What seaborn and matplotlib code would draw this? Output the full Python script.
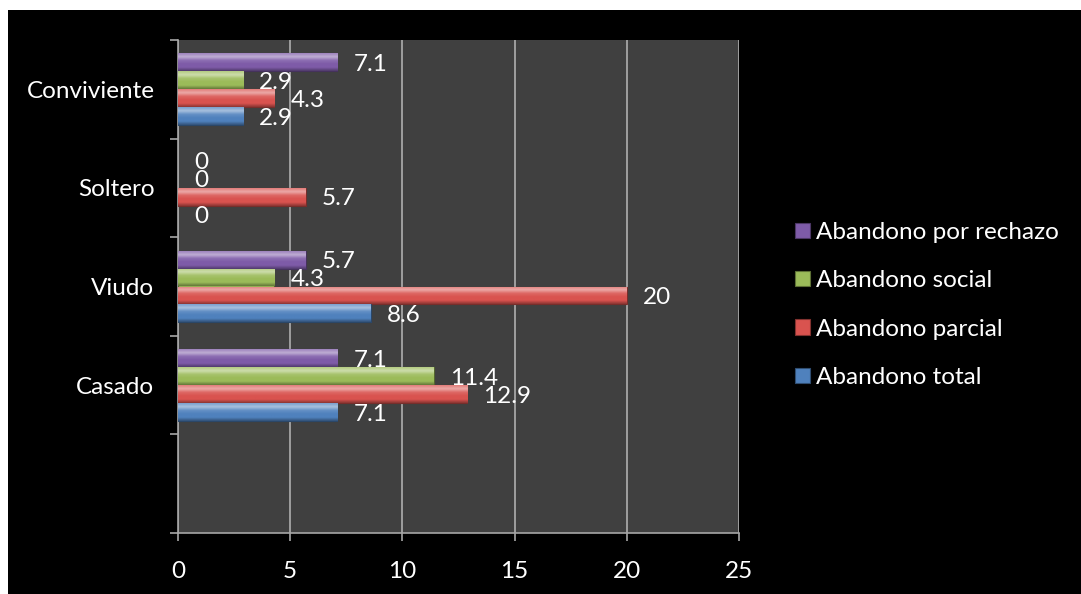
import numpy as np
import pandas as pd
import matplotlib
matplotlib.use("Agg")
import matplotlib.pyplot as plt
import matplotlib.colors as mcolors
from matplotlib.patches import Rectangle
import seaborn as sns

# Estado civil (de arriba hacia abajo; la última franja queda vacía)
estados = ["Conviviente", "Soltero", "Viudo", "Casado", " "]
tipos = ["Abandono por rechazo", "Abandono social", "Abandono parcial", "Abandono total"]

rechazo = [7.1, 0, 5.7, 7.1]
social = [2.9, 0, 4.3, 11.4]
parcial = [4.3, 5.7, 20, 12.9]
total = [2.9, 0, 8.6, 7.1]

colores = ["#7E5BA8", "#9BBB59", "#D9534F", "#4F81BD"]
x_ticks = [0, 5, 10, 15, 20, 25]

rows = []
for tipo, vals in zip(tipos, [rechazo, social, parcial, total]):
    for est, v in zip(estados[:4], vals):
        rows.append({"estado": est, "tipo": tipo, "valor": v})
df = pd.DataFrame(rows)

sns.set_style("dark")
plt.rcParams["font.family"] = ["Lato", "DejaVu Sans"]
FS = 17.5

fig = plt.figure(figsize=(10.81, 5.94), dpi=100, facecolor="white")
fig.patches.append(Rectangle((8 / 1081, 0), 1, 1 - 10 / 594, transform=fig.transFigure,
                             facecolor="black", edgecolor="none", zorder=-10))
ax = fig.add_axes([178 / 1081, 1 - 533 / 594, (739 - 178) / 1081, (533 - 40) / 594])
ax.set_facecolor("#404040")

sns.barplot(data=df, y="estado", x="valor", hue="tipo", order=estados, hue_order=tipos,
            palette=colores, orient="h", width=0.73, saturation=1, ax=ax,
            legend=False, zorder=3)


def mix(c, other, t):
    c = np.array(mcolors.to_rgb(c))
    o = np.array(mcolors.to_rgb(other))
    return c * (1 - t) + o * t


def gradient(base, n=40):
    stops = [mix(base, "white", 0.25), mix(base, "white", 0.5), mix(base, "white", 0.12),
             np.array(base), np.array(base), mix(base, "black", 0.35)]
    pos = np.linspace(0, 1, len(stops))
    t = np.linspace(0, 1, n)
    grad = np.stack([np.interp(t, pos, [s[k] for s in stops]) for k in range(3)], axis=-1)
    return np.repeat(grad[:, None, :], 2, axis=1)


# Bevelled look: vertical gradient clipped to each bar, value label at its end
bars = [p for p in ax.patches if isinstance(p, Rectangle)]
for p in bars:
    x0, y0, w, h = p.get_x(), p.get_y(), p.get_width(), p.get_height()
    base = mcolors.to_rgb(p.get_facecolor())
    ax.annotate(f"{w:g}", (x0 + w, y0 + h / 2), xytext=(16, -2),
                textcoords="offset pixels", ha="left", va="center",
                color="white", fontsize=FS, zorder=6)
    if w <= 0:
        p.set_linewidth(0)
        p.set_visible(False)
        continue
    p.set_edgecolor(mix(base, "black", 0.45))
    p.set_linewidth(0.8)
    im = ax.imshow(gradient(base), extent=(x0, x0 + w, y0 + h, y0), origin="upper",
                   aspect="auto", interpolation="bilinear", zorder=3.5)
    im.set_clip_path(p)

ax.set_xlim(0, 25)
ax.set_ylim(len(estados) - 0.5, -0.5)
ax.set_xticks(x_ticks)
ax.set_xticklabels([str(v) for v in x_ticks])
ax.set_yticks(range(len(estados)))
ax.set_yticklabels(estados)
ax.set_yticks(np.arange(-0.5, len(estados), 1), minor=True)
ax.set_xlabel("")
ax.set_ylabel("")

ax.grid(False)
ax.xaxis.grid(True, color="#A6A6A6", linewidth=1.3, zorder=1)
ax.set_axisbelow(True)

ax.tick_params(axis="y", which="major", length=0, pad=17, labelsize=FS, labelcolor="white")
ax.tick_params(axis="y", which="minor", length=6, width=1.2, color="#A6A6A6", left=True)
ax.tick_params(axis="x", which="major", length=6, width=1.2, color="#A6A6A6", bottom=True,
               pad=14, labelsize=FS, labelcolor="white")

for s in ["top", "right"]:
    ax.spines[s].set_visible(False)
for s in ["left", "bottom"]:
    ax.spines[s].set_visible(True)
    ax.spines[s].set_color("#A6A6A6")
    ax.spines[s].set_linewidth(1.2)

handles = [Rectangle((0, 0), 1, 1, facecolor=c, edgecolor=mix(c, "black", 0.4), linewidth=0.8)
           for c in colores]
leg = fig.legend(handles, tipos, loc="center left", bbox_to_anchor=(795 / 1081, 1 - 305 / 594),
                 frameon=False, fontsize=FS, handlelength=0.6, handleheight=0.6,
                 handletextpad=0.25, labelspacing=1.13, borderpad=0, borderaxespad=0)
for txt in leg.get_texts():
    txt.set_color("white")

fig.savefig("out.png", dpi=100, facecolor=fig.get_facecolor())
